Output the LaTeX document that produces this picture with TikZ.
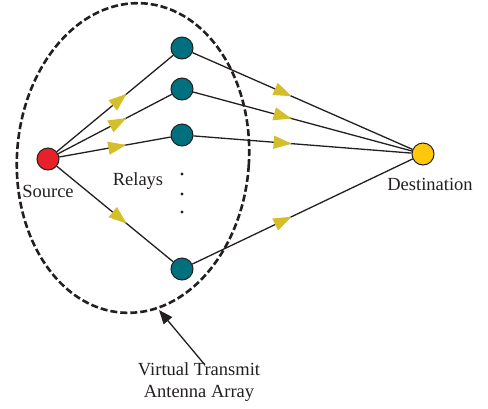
\documentclass[tikz,border=0pt]{standalone}
\usepackage{fontspec}
\setmainfont{Liberation Serif}
\usetikzlibrary{arrows.meta,decorations.markings}
\definecolor{srcred}{HTML}{E8202A}
\definecolor{relayteal}{HTML}{00707E}
\definecolor{dstgold}{HTML}{FFC80A}
\definecolor{tipyellow}{HTML}{D4BE2A}
\definecolor{ink}{HTML}{231F20}
\begin{document}
\begin{tikzpicture}[x=1pt, y=-1pt,
	station/.style={circle, draw=ink, line width=1pt, minimum size=22pt, inner sep=0pt},
	link/.style={ink, line width=1.3pt, postaction={decorate},
		decoration={markings, mark=at position #1 with {\arrow{Triangle[length=18pt, width=13pt, color=tipyellow, fill=tipyellow]}}}},
	lbl/.style={text=ink, font=\fontsize{18.5}{22}\selectfont, inner sep=0pt}]
	%\draw[help lines] (0,0) grid (488,408);
	\useasboundingbox (0,0) rectangle (488,408);
	
	% the virtual array
	\draw [ink, line width=2.6pt, dash pattern=on 7pt off 3pt, rotate around={-4:(133,158)}] (133,158) ellipse (116pt and 155pt);
	
	\node [station, fill=srcred] (src) at (48, 159) {};
	\node [station, fill=relayteal] (r1) at (182, 48) {};
	\node [station, fill=relayteal] (r2) at (182, 89) {};
	\node [station, fill=relayteal] (r3) at (182, 135) {};
	\node [station, fill=relayteal] (r4) at (182, 269) {};
	\node [station, fill=dstgold] (dst) at (423, 154) {};
	
	\fill [ink] (182, 174) circle (1.6pt);
	\fill [ink] (182, 194) circle (1.6pt);
	\fill [ink] (182, 212) circle (1.6pt);
	
	\draw [link=0.6] (src) -- (r1);
	\draw [link=0.6] (src) -- (r2);
	\draw [link=0.6] (src) -- (r3);
	\draw [link=0.6] (src) -- (r4);
	\draw [link=0.45] (r1) -- (dst);
	\draw [link=0.45] (r2) -- (dst);
	\draw [link=0.45] (r3) -- (dst);
	\draw [link=0.45] (r4) -- (dst);
	
	\node [lbl, anchor=base] (srclbl) at (48, 197) {Source};
	\node [lbl, anchor=base] (rlylbl) at (138, 185) {Relays};
	\node [lbl, anchor=base] (dstlbl) at (430, 190) {Destination};
	\node [lbl, align=center, anchor=north] (vta) at (199, 362) {Virtual Transmit\\Antenna Array};
	
	\coordinate (rim) at (159, 310);
	\draw [ink, line width=1.3pt, -{Triangle[length=14pt, width=11pt]}] ([xshift=6pt, yshift=-3pt]vta.north) -- (rim);
\end{tikzpicture}
\end{document}
